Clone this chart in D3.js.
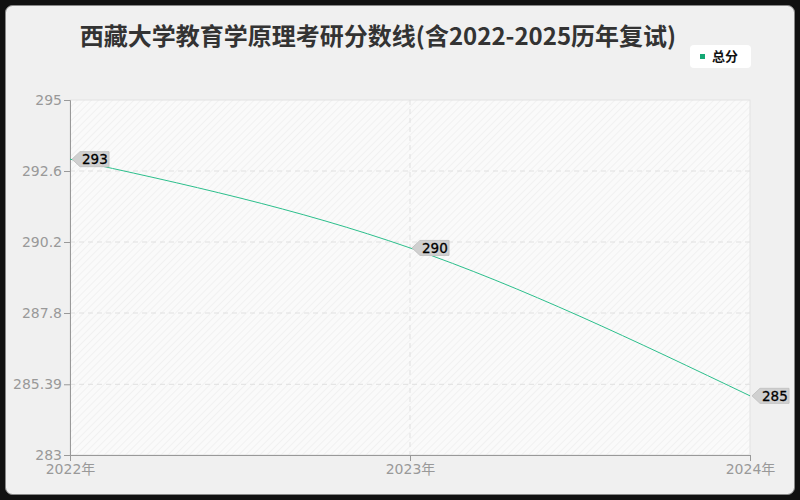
<!doctype html>
<html lang="zh">
  <head>
    <meta charset="utf-8">
    <title>西藏大学教育学原理考研分数线</title>
    <style>
      * { box-sizing: border-box; }
      body { margin: 0; background: #111; }
      svg { display: block; font-family: "Noto Sans CJK SC", "Noto Sans", sans-serif; }
    </style>
  </head>
  <body>
    <div id="chart"></div>
    <script src="https://cdn.jsdelivr.net/npm/d3@7"></script>
    <script>
      const years = ['2022年', '2023年', '2024年']
      const scores = [293, 290, 285]
      const yTicks = [283, 285.39, 287.8, 290.2, 292.6, 295]
      const yDomain = [283, 295]
      const seriesName = '总分'
      const title = '西藏大学教育学原理考研分数线(含2022-2025历年复试)'

      const width = 800
      const height = 500
      const margin = { top: 100, right: 50, bottom: 45, left: 70 }
      const lineColor = '#2cbf8c'

      const svg = d3.select('#chart')
        .append('svg')
          .attr('width', width)
          .attr('height', height)

      const defs = svg.append('defs')
      const pattern = defs.append('pattern')
        .attr('id', 'hatch')
        .attr('patternUnits', 'userSpaceOnUse')
        .attr('width', 5)
        .attr('height', 5)
        .attr('patternTransform', 'rotate(45)')
      pattern.append('rect')
        .attr('width', 5).attr('height', 5)
        .attr('fill', '#fafafa')
      pattern.append('line')
        .attr('x1', 0).attr('y1', 0).attr('x2', 0).attr('y2', 5)
        .attr('stroke', '#efefef')
        .attr('stroke-width', 1.5)

      // card
      svg.append('rect')
        .attr('x', 5.5).attr('y', 5.5)
        .attr('width', width - 11).attr('height', height - 11)
        .attr('rx', 7)
        .attr('fill', '#f0f0f0')
        .attr('stroke', '#888')

      const x = d3.scalePoint()
        .domain(years)
        .range([margin.left, width - margin.right])

      const y = d3.scaleLinear()
        .domain(yDomain)
        .range([height - margin.bottom, margin.top])

      // plot area
      svg.append('rect')
        .attr('x', margin.left)
        .attr('y', margin.top)
        .attr('width', width - margin.left - margin.right)
        .attr('height', height - margin.top - margin.bottom)
        .attr('fill', 'url(#hatch)')
        .attr('stroke', '#e2e2e2')

      // grid
      svg.append('g')
        .selectAll('line')
        .data(yTicks.slice(1, -1))
        .join('line')
          .attr('x1', margin.left)
          .attr('x2', width - margin.right)
          .attr('y1', d => y(d))
          .attr('y2', d => y(d))
          .attr('stroke', '#e0e0e0')
          .attr('stroke-dasharray', '5,4')

      svg.append('g')
        .selectAll('line')
        .data(years.slice(1, -1))
        .join('line')
          .attr('x1', d => x(d))
          .attr('x2', d => x(d))
          .attr('y1', margin.top)
          .attr('y2', height - margin.bottom)
          .attr('stroke', '#e0e0e0')
          .attr('stroke-dasharray', '5,4')

      // axes
      const yAxis = d3.axisLeft(y)
        .tickValues(yTicks)
        .tickFormat(d => String(d))
        .tickSize(6)
        .tickPadding(2)

      const xAxis = d3.axisBottom(x)
        .tickSize(6)
        .tickPadding(3)

      const gy = svg.append('g')
        .attr('transform', `translate(${margin.left}, 0)`)
        .call(yAxis)
      const gx = svg.append('g')
        .attr('transform', `translate(0, ${height - margin.bottom})`)
        .call(xAxis)

      for (const g of [gx, gy]) {
        g.attr('font-family', null).attr('font-size', null)
        g.select('.domain').attr('stroke', '#999')
        g.selectAll('.tick line').attr('stroke', '#999')
        g.selectAll('.tick text')
          .attr('fill', '#999')
          .style('font-size', '14px')
          .style('font-family', '"DejaVu Sans", "Noto Sans CJK SC", sans-serif')
      }
      gy.selectAll('.tick text').attr('dy', '0.3em')

      // line
      const line = d3.line()
        .x((d, i) => x(years[i]))
        .y(d => y(d))
        .curve(d3.curveMonotoneX)

      svg.append('path')
        .datum(scores)
        .attr('d', line)
        .attr('fill', 'none')
        .attr('stroke', lineColor)
        .attr('stroke-width', 1)

      // value tags
      const tags = svg.append('g')
        .selectAll('g')
        .data(scores)
        .join('g')
          .attr('transform', (d, i) => `translate(${x(years[i])}, ${y(d)})`)

      tags.append('path')
        .attr('d', 'M2,0 L10,-7.5 L39,-7.5 L39,7.5 L10,7.5 Z')
        .attr('fill', '#d0d0d0')
        .attr('stroke', '#c4c4c4')

      tags.append('text')
        .attr('x', 12)
        .attr('dy', '0.36em')
        .style('font-size', '13.5px')
        .style('font-family', '"DejaVu Sans", sans-serif')
        .attr('fill', '#000')
        .attr('stroke', '#000')
        .attr('stroke-width', 0.3)
        .text(d => d)

      // title
      svg.append('text')
        .attr('x', 378)
        .attr('y', 45)
        .attr('text-anchor', 'middle')
        .attr('font-size', 24)
        .attr('font-weight', 'bold')
        .attr('fill', '#333')
        .text(title)

      // legend
      const legend = svg.append('g')
        .attr('transform', 'translate(690, 45)')
      legend.append('rect')
        .attr('width', 61).attr('height', 23)
        .attr('rx', 4)
        .attr('fill', '#fff')
      legend.append('rect')
        .attr('x', 10).attr('y', 9)
        .attr('width', 5).attr('height', 5)
        .attr('fill', '#14a874')
      legend.append('text')
        .attr('x', 22).attr('y', 11.5)
        .attr('dy', '0.36em')
        .attr('font-size', 13)
        .attr('font-weight', 'bold')
        .attr('fill', '#111')
        .text(seriesName)
    </script>
  </body>
</html>
